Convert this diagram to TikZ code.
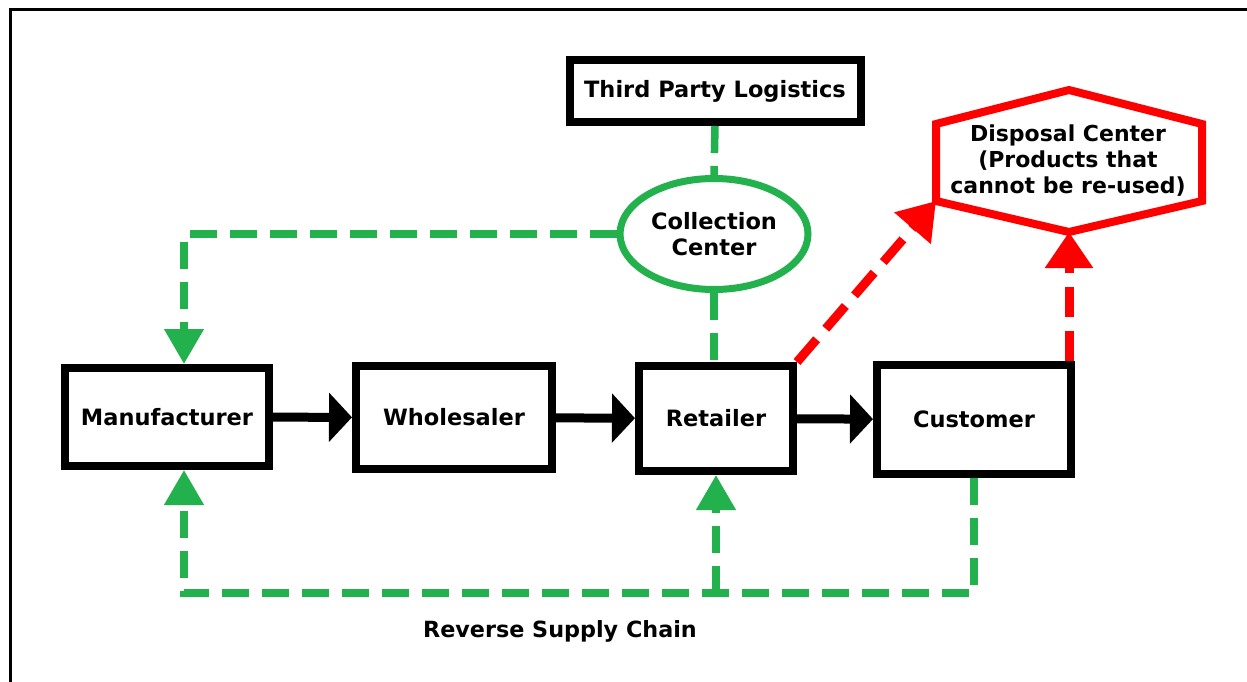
\documentclass[tikz,border=0pt]{standalone}
\usepackage{fontspec}
\setmainfont{DejaVu Sans}
\usepackage{xcolor}
\usepackage{tikz}
\usetikzlibrary{arrows.meta}
\usetikzlibrary{shapes.geometric}
\definecolor{paintgreen}{RGB}{34,177,76}
\definecolor{paintred}{RGB}{255,0,0}

\begin{document}
\begin{tikzpicture}[x=1pt,y=-1pt,
    box/.style={draw,line width=8pt,inner sep=0pt,align=center,
      font=\bfseries\fontsize{22.5}{26}\selectfont},
    flow/.style={line width=9pt,-{Triangle[length=23pt,width=48pt]}},
    revline/.style={paintgreen,line width=7.5pt,dash pattern=on 27pt off 13pt},
    revtip/.style={-{Triangle[length=35pt,width=38pt]}},
    wasteline/.style={paintred,line width=9pt,dash pattern=on 30pt off 14pt,
      -{Triangle[length=36pt,width=46pt]}}]
    \useasboundingbox (0,0) rectangle (1247,682);
    \draw[line width=2.5pt] (10.5,682) -- (10.5,9.5) -- (1247,9.5);
    % forward chain
    \node[box,minimum width=291pt,minimum height=62pt] (tpl) at (715,91) {Third Party Logistics};
    \node[ellipse,draw=paintgreen,line width=7pt,inner sep=0pt,align=center,
      minimum width=188pt,minimum height=111pt,
      font=\bfseries\fontsize{22.5}{26}\selectfont] (cc) at (714,234) {Collection\\Center};
    \node[box,minimum width=204pt,minimum height=98pt] (man) at (167,417) {Manufacturer};
    \node[box,minimum width=196pt,minimum height=103pt] (whs) at (454,417.5) {Wholesaler};
    \node[box,minimum width=154pt,minimum height=105pt] (ret) at (716,418.5) {Retailer};
    \node[box,minimum width=194pt,minimum height=109pt] (cust) at (974,419.5) {Customer};
    \node[align=center,font=\bfseries\fontsize{22}{26}\selectfont] (disp) at (1068,161)
      {Disposal Center\\(Products that\\cannot be re-used)};
    \draw[paintred,line width=8pt] (936,124) -- (1069,90) -- (1202,124) -- (1202,201)
      -- (1069,232) coordinate (hexb) -- (936,201) coordinate (hexl) -- cycle;
    \draw[flow] (man) -- (whs);
    \draw[flow] (whs) -- (ret);
    \draw[flow] (ret) -- (cust);
    % reverse chain
    \draw[revline] (tpl.south) -- (cc.north);
    \draw[revline] (cc.south) -- (cc.south |- ret.north);
    \draw[revline,revtip] (cc.west) -| ([xshift=17pt]man.north);
    \coordinate (rsc) at (184,593);
    \draw[revline,revtip] (cust.south) |- (rsc) -- (rsc |- man.south);
    \draw[revline,revtip] (ret.south |- rsc) -- (ret.south);
    \node[font=\bfseries\fontsize{22.3}{26}\selectfont] (rsclabel) at (560,631) {Reverse Supply Chain};
    % disposal
    \draw[wasteline] (ret.north east) -- (hexl);
    \draw[wasteline] (hexb |- cust.north) -- (hexb);
\end{tikzpicture}
\end{document}
